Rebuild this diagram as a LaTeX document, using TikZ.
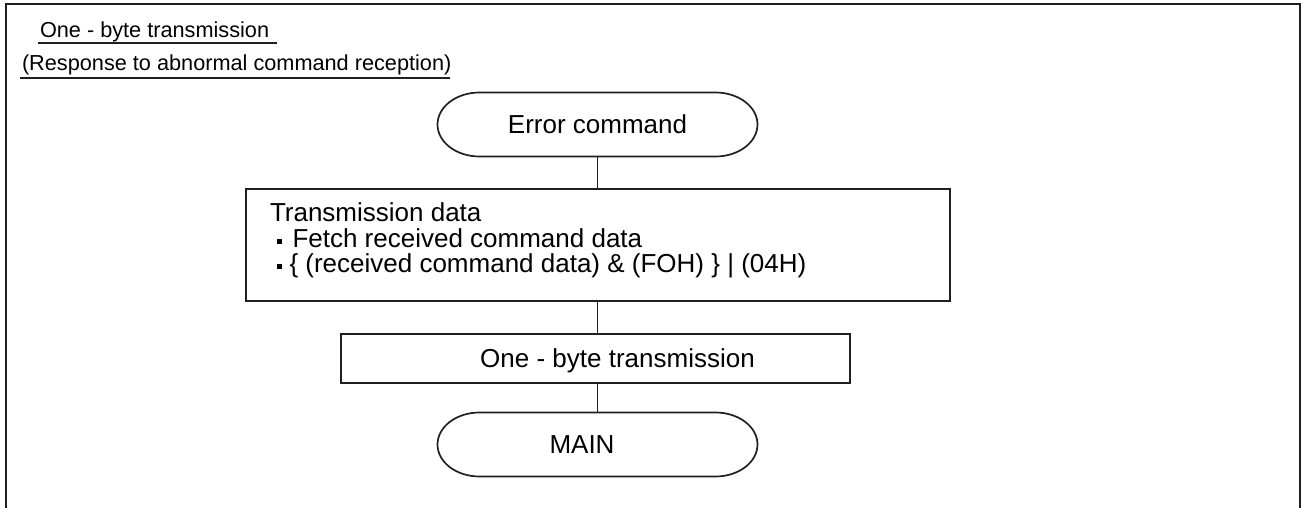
\documentclass[tikz,border=0pt]{standalone}
\usepackage{fontspec}
\setmainfont{Liberation Sans}
\begin{document}
\begin{tikzpicture}[x=1pt,y=-1pt]
\tikzset{
  every node/.style={inner sep=0pt, outer sep=0pt},
  ln/.style={line width=1.7pt, draw=black!88},
  big/.style={font=\fontsize{26}{26}\selectfont},
  small/.style={font=\fontsize{21.7}{21.7}\selectfont},
  term/.style={big, minimum width=320pt, minimum height=64pt, text depth=0pt},
  procbox/.style={ln, draw, rectangle},
}
\newcommand\stadiumpath[1]{%
  \draw[ln] ([xshift=42pt]#1.north west) -- ([xshift=-42pt]#1.north east)
    arc[start angle=90, end angle=-90, x radius=42pt, y radius=32pt]
    -- ([xshift=42pt]#1.south west)
    arc[start angle=270, end angle=90, x radius=42pt, y radius=32pt] -- cycle;}
\useasboundingbox (0,0) rectangle (1304,508);
\fill[white] (0,0) rectangle (1304,508);
% outer frame (open at the bottom)
\coordinate (fbl) at (6,508);
\coordinate (ftl) at (6,4);
\coordinate (ftr) at (1300,4);
\coordinate (fbr) at (1300,508);
\draw[ln, line width=2pt] (fbl) -- (ftl) -- (ftr) -- (fbr);
% header
\node[small, anchor=base west] (h1) at (40,38) {One - byte transmission};
\node[small, anchor=base west] (h2) at (22,71) {(Response to abnormal command reception)};
\draw[ln, line width=1.8pt] ([shift={(-2pt,-5pt)}]h1.base west) -- ([shift={(8pt,-5pt)}]h1.base east);
\draw[ln, line width=1.8pt] ([shift={(-2pt,-7pt)}]h2.base west) -- ([shift={(-1pt,-7pt)}]h2.base east);
% flow
\node[term] (err) at (597.5,124.5) {Error command};
\stadiumpath{err}
\node[procbox, minimum width=704pt, minimum height=112pt] (box1) at (598,245) {};
\node[big, anchor=base west] (t1) at (270,221) {Transmission data};
\node[big, anchor=base west] (t2) at (277,247) {\rule[3.5pt]{4.5pt}{4.5pt}\hspace{11pt}Fetch received command data};
\node[big, anchor=base west] (t3) at (277,272) {\rule[3.5pt]{4.5pt}{4.5pt}\hspace{8pt}\{ (received command data) \& (FOH) \} | (04H)};
\node[procbox, big, minimum width=509pt, minimum height=49pt, text depth=0pt] (box2) at (595.5,358.5) {\hspace*{44pt}One - byte transmission};
\node[term] (main) at (597.5,444.5) {MAIN\hspace*{31pt}};
\stadiumpath{main}
\draw[ln] (err.south) -- (err.south |- box1.north);
\draw[ln] (err.south |- box1.south) -- (err.south |- box2.north);
\draw[ln] (err.south |- box2.south) -- (main.north);
\end{tikzpicture}
\end{document}
